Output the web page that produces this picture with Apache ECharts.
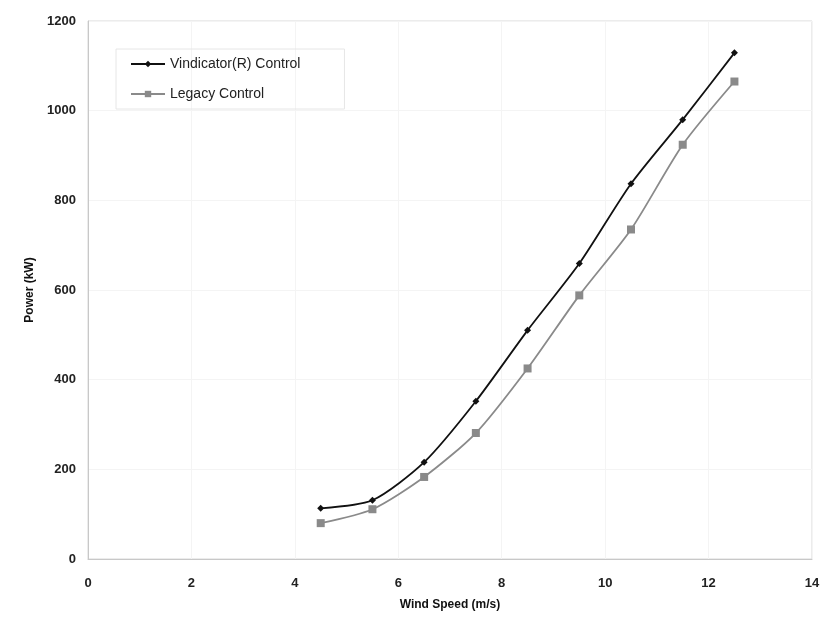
<!DOCTYPE html>
<html><head><meta charset="utf-8">
<script src="https://cdn.jsdelivr.net/npm/echarts@6/dist/echarts.min.js"></script>
<style>html,body{margin:0;padding:0;background:#fff}#c{width:823px;height:619px}</style>
</head><body><div id="c"></div>
<script>
const windSpeed = [4.5, 5.5, 6.5, 7.5, 8.5, 9.5, 10.5, 11.5, 12.5];
const vindicator = [113, 131, 216, 352, 510, 659, 837, 980, 1129];
const legacy = [80, 111, 183, 281, 425, 588, 735, 924, 1065];
const xTicks = [0, 2, 4, 6, 8, 10, 12, 14];
const yTicks = [0, 200, 400, 600, 800, 1000, 1200];

const chart = echarts.init(document.getElementById('c'));
const pair = (xs, ys) => xs.map((x, i) => [x, ys[i]]);
chart.setOption({
  animation: false,
  grid: {left: 88, right: 11, top: 21, bottom: 60, show: true, borderColor: '#d9d9d9', borderWidth: 1},
  legend: {
    left: 116, top: 49, orient: 'vertical', itemGap: 16,
    padding: [8, 44, 8, 14],
    borderColor: '#e6e6e6', borderWidth: 1,
    itemWidth: 34, itemHeight: 8,
    textStyle: {fontFamily: 'Liberation Sans, Arial', fontSize: 14, color: '#222'},
    data: ['Vindicator(R) Control', 'Legacy Control']
  },
  xAxis: {
    type: 'value', min: xTicks[0], max: xTicks[xTicks.length - 1], interval: 2,
    name: 'Wind Speed (m/s)', nameLocation: 'middle', nameGap: 40,
    nameTextStyle: {fontFamily: 'Liberation Sans, Arial', fontWeight: 'bold', fontSize: 12, color: '#111'},
    axisLine: {lineStyle: {color: '#c8c8c8'}},
    axisTick: {show: false},
    axisLabel: {fontFamily: 'Liberation Sans, Arial', fontWeight: 'bold', fontSize: 13, color: '#222', margin: 18},
    splitLine: {show: true, lineStyle: {color: '#f4f4f4'}}
  },
  yAxis: {
    type: 'value', min: yTicks[0], max: yTicks[yTicks.length - 1], interval: 200,
    name: 'Power (kW)', nameLocation: 'middle', nameGap: 52,
    nameTextStyle: {fontFamily: 'Liberation Sans, Arial', fontWeight: 'bold', fontSize: 12, color: '#111'},
    axisLine: {show: true, lineStyle: {color: '#c8c8c8'}},
    axisTick: {show: false},
    axisLabel: {fontFamily: 'Liberation Sans, Arial', fontWeight: 'bold', fontSize: 13, color: '#222', margin: 12,
      formatter: v => String(v)},
    splitLine: {show: true, lineStyle: {color: '#f4f4f4'}}
  },
  series: [
    {name: 'Vindicator(R) Control', type: 'line', smooth: 0.25,
     data: pair(windSpeed, vindicator), symbol: 'diamond', symbolSize: 7,
     lineStyle: {color: '#111', width: 1.8}, itemStyle: {color: '#111'}},
    {name: 'Legacy Control', type: 'line', smooth: 0.25,
     data: pair(windSpeed, legacy), symbol: 'rect', symbolSize: 8,
     lineStyle: {color: '#8a8a8a', width: 1.8}, itemStyle: {color: '#8a8a8a'}}
  ]
});
</script></body></html>
